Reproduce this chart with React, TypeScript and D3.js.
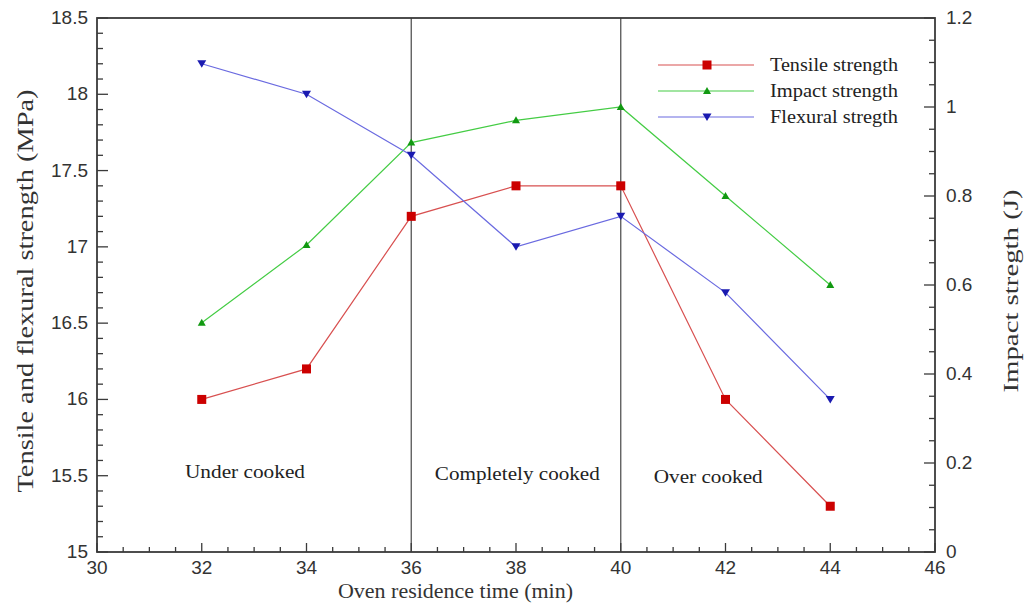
import React from "react";
import * as d3 from "d3";

const times = [32, 34, 36, 38, 40, 42, 44];
const tensile = [16.0, 16.2, 17.2, 17.4, 17.4, 16.0, 15.3];
const impact = [0.515, 0.69, 0.92, 0.97, 1.0, 0.8, 0.6];
const flexural = [18.2, 18.0, 17.6, 17.0, 17.2, 16.7, 16.0];
const xTicks = [30, 32, 34, 36, 38, 40, 42, 44, 46];
const yLeftTicks = [15, 15.5, 16, 16.5, 17, 17.5, 18, 18.5];
const yRightTicks = [0, 0.2, 0.4, 0.6, 0.8, 1, 1.2];
const dividers = [36, 40];
const regions = [
  { label: "Under cooked", x: 31.68, y: 15.485, len: 120 },
  { label: "Completely cooked", x: 36.45, y: 15.47, len: 165 },
  { label: "Over cooked", x: 40.63, y: 15.455, len: 109 },
];
const legendItems = ["Tensile strength", "Impact strength", "Flexural stregth"];

const L = 97, R = 935, T = 18, B = 552;

export default function App() {
  const x = d3.scaleLinear().domain([30, 46]).range([L, R]);
  const yL = d3.scaleLinear().domain([15, 18.5]).range([B, T]);
  const yR = d3.scaleLinear().domain([0, 1.2]).range([B, T]);

  const lineL = d3.line<[number, number]>().x(d => x(d[0])).y(d => yL(d[1]));
  const lineR = d3.line<[number, number]>().x(d => x(d[0])).y(d => yR(d[1]));

  const tData = times.map((t, i) => [t, tensile[i]] as [number, number]);
  const iData = times.map((t, i) => [t, impact[i]] as [number, number]);
  const fData = times.map((t, i) => [t, flexural[i]] as [number, number]);

  const xMinor = d3.range(30, 46.001, 0.5);
  const yLMinor = d3.range(15, 18.501, 0.1);
  const yRMinor = d3.range(0, 1.2001, 0.05);

  const axisColor = "#3a3a3a";
  const tickFont = "'Liberation Sans', Arial, sans-serif";
  const serif = "'Liberation Serif', 'Times New Roman', serif";

  const colors = {
    tLine: "#d85050", tMark: "#cc0000",
    iLine: "#44cc44", iMark: "#119911",
    fLine: "#6a6ae0", fMark: "#1a1ab0",
  };

  const square = (cx: number, cy: number, key: string) => (
    <rect key={key} x={cx - 4.5} y={cy - 4.5} width={9} height={9} fill={colors.tMark} />
  );
  const triUp = (cx: number, cy: number, key: string) => (
    <path key={key} d={`M${cx},${cy - 4} L${cx + 4},${cy + 3} L${cx - 4},${cy + 3} Z`} fill={colors.iMark} />
  );
  const triDown = (cx: number, cy: number, key: string) => (
    <path key={key} d={`M${cx - 4.5},${cy - 3.5} L${cx + 4.5},${cy - 3.5} L${cx},${cy + 4} Z`} fill={colors.fMark} />
  );

  const legendY = [65, 91, 117];
  const legendLine = [
    { c: colors.tLine, m: square },
    { c: colors.iLine, m: triUp },
    { c: colors.fLine, m: triDown },
  ];

  return (
    <svg width={1028} height={606} style={{ position: "absolute", left: 0, top: 0, background: "#fff" }}>
      {dividers.map(d => (
        <line key={d} x1={x(d)} x2={x(d)} y1={T} y2={B} stroke="#555" strokeWidth={1.3} />
      ))}
      <path d={lineL(tData) || ""} fill="none" stroke={colors.tLine} strokeWidth={1.2} />
      <path d={lineR(iData) || ""} fill="none" stroke={colors.iLine} strokeWidth={1.2} />
      <path d={lineL(fData) || ""} fill="none" stroke={colors.fLine} strokeWidth={1.2} />
      {tData.map((d, i) => square(x(d[0]), yL(d[1]), "t" + i))}
      {iData.map((d, i) => triUp(x(d[0]), yR(d[1]), "i" + i))}
      {fData.map((d, i) => triDown(x(d[0]), yL(d[1]), "f" + i))}

      <rect x={L} y={T} width={R - L} height={B - T} fill="none" stroke={axisColor} strokeWidth={1.8} />

      {xMinor.map((v, i) => (
        <line key={"xm" + i} x1={x(v)} x2={x(v)} y1={B} y2={B - (Math.abs(v % 2) < 1e-6 ? 9 : 5)} stroke={axisColor} strokeWidth={1.3} />
      ))}
      {xTicks.map(v => (
        <text key={"xt" + v} x={x(v)} y={574} textAnchor="middle" fontFamily={tickFont} fontSize={19} fill="#333">{v}</text>
      ))}
      {yLMinor.map((v, i) => (
        <line key={"ylm" + i} x1={L} x2={L + (i % 5 === 0 ? 11 : 6)} y1={yL(v)} y2={yL(v)} stroke={axisColor} strokeWidth={1.3} />
      ))}
      {yLeftTicks.map(v => (
        <text key={"ylt" + v} x={88} y={yL(v) + 6} textAnchor="end" fontFamily={tickFont} fontSize={19} fill="#333">{v}</text>
      ))}
      {yRMinor.map((v, i) => (
        <line key={"yrm" + i} x1={R} x2={R - (i % 4 === 0 ? 11 : 6)} y1={yR(v)} y2={yR(v)} stroke={axisColor} strokeWidth={1.3} />
      ))}
      {yRightTicks.map(v => (
        <text key={"yrt" + v} x={946} y={yR(v) + 6} textAnchor="start" fontFamily={tickFont} fontSize={19} fill="#333">{v}</text>
      ))}

      <text x={455.5} y={598} textAnchor="middle" fontFamily={serif} fontSize={22} fill="#333" textLength={235} lengthAdjust="spacingAndGlyphs">Oven residence time (min)</text>
      <text transform={`translate(33, 291) rotate(-90)`} textAnchor="middle" fontFamily={serif} fontSize={24} fill="#333" textLength={403} lengthAdjust="spacingAndGlyphs">Tensile and flexural strength (MPa)</text>
      <text transform={`translate(1018, 291) rotate(-90)`} textAnchor="middle" fontFamily={serif} fontSize={22} fill="#333" textLength={203} lengthAdjust="spacingAndGlyphs">Impact stregth (J)</text>

      {regions.map(r => (
        <text key={r.label} x={x(r.x)} y={yL(r.y)} fontFamily={serif} fontSize={19} fill="#222" textLength={r.len} lengthAdjust="spacingAndGlyphs">{r.label}</text>
      ))}

      {legendItems.map((name, i) => (
        <g key={name}>
          <line x1={658} x2={754} y1={legendY[i]} y2={legendY[i]} stroke={legendLine[i].c} strokeWidth={1.2} />
          {legendLine[i].m(707, legendY[i], "lm" + i)}
          <text x={770} y={legendY[i] + 6} fontFamily={serif} fontSize={19} fill="#222" textLength={128} lengthAdjust="spacingAndGlyphs">{name}</text>
        </g>
      ))}
    </svg>
  );
}
